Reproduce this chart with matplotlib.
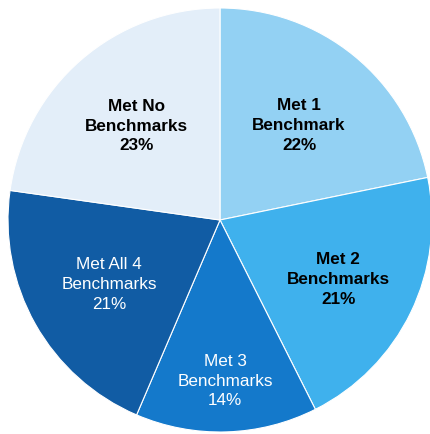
import numpy as np
import matplotlib.pyplot as plt

# slices, clockwise from 12 o'clock
labels = ["Met 1\nBenchmark", "Met 2\nBenchmarks", "Met 3\nBenchmarks",
          "Met All 4\nBenchmarks", "Met No\nBenchmarks"]
shares = [22, 21, 14, 21, 23]
colors = ["#93d1f3", "#3fb1ed", "#1479cb", "#115ca4", "#e3eef9"]
text_colors = ["black", "black", "white", "white", "black"]
text_weights = ["bold", "bold", "normal", "normal", "bold"]
label_dist = [0.59, 0.62, 0.75, 0.60, 0.60]

plt.rcParams['font.family'] = ['Liberation Sans', 'DejaVu Sans']

fig = plt.figure(figsize=(4.30, 4.34), dpi=100)
ax = fig.add_axes([0, 0, 1, 1])

wedges, _ = ax.pie(shares, colors=colors, startangle=90, counterclock=False,
                   radius=1.0, wedgeprops=dict(edgecolor="white", linewidth=0.8))

for w, lab, val, tc, tw, d in zip(wedges, labels, shares, text_colors, text_weights, label_dist):
    ang = np.deg2rad((w.theta1 + w.theta2) / 2)
    ax.text(d * np.cos(ang), d * np.sin(ang) - 0.01, f"{lab}\n{val}%",
            ha="center", va="center", color=tc, fontweight=tw,
            fontsize=12.3, linespacing=1.4)

# pie centre at ~ (220, 220) px, radius ~212 px
ax.set_xlim(-220 / 212, 210 / 212)
ax.set_ylim(-214 / 212, 220 / 212)
ax.set_aspect("auto")
ax.axis("off")

fig.savefig("out.png", dpi=100)
